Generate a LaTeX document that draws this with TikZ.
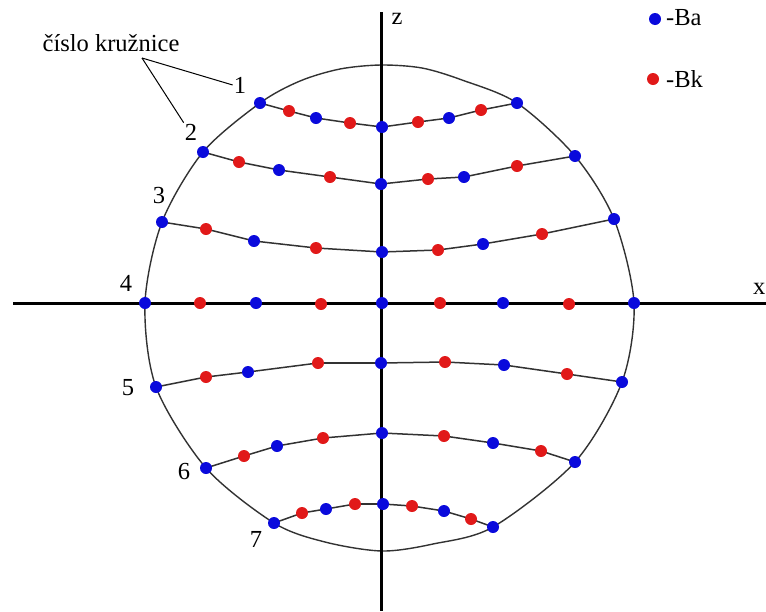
\documentclass[tikz,border=0pt]{standalone}
\usepackage{fontspec}
\setmainfont{Liberation Serif}
\usetikzlibrary{backgrounds}
\definecolor{dotblue}{RGB}{10,10,220}
\definecolor{dotred}{RGB}{225,25,25}
\definecolor{linegray}{RGB}{50,50,50}
\begin{document}
\begin{tikzpicture}[x=1pt,y=-1pt,
  dotB/.style={circle,fill=dotblue,inner sep=0pt,minimum size=12pt},
  dotR/.style={circle,fill=dotred,inner sep=0pt,minimum size=12pt},
  rowline/.style={draw=linegray,line width=1.5pt},
  outline/.style={draw=linegray,line width=1.4pt},
  axis/.style={draw=black,line width=3pt},
  lbl/.style={font=\fontsize{24.5}{28}\selectfont,inner sep=1pt},
  leader/.style={draw=black,line width=1pt}]
\useasboundingbox (0,0) rectangle (766,611);
% dots
\foreach \r/\pts in {
  1/{260/103,289/111,316/118,350/123,382/127,418/122,449/118,481/110,517/103},
  2/{203/152,239/162,279/170,330/177,381/184,428/179,464/177,517/166,575/156},
  3/{162/222,206/229,254/241,316/248,382/252,438/250,483/244,542/234,614/219},
  4/{145/303,200/303,256/303,321/304,382/303,440/303,503/303,569/304,634/303},
  5/{156/387,206/377,248/372,318/363,381/363,445/362,504/365,567/374,622/382},
  6/{206/468,244/456,277/446,323/438,382/433,444/436,493/443,541/451,575/462},
  7/{274/523,302/513,326/509,355/504,383/504,412/506,444/511,471/519,493/527}}{
  \foreach \px/\py [count=\i] in \pts {
    \ifodd\i
      \node[dotB] (r\r-\i) at (\px,\py) {};
    \else
      \node[dotR] (r\r-\i) at (\px,\py) {};
    \fi
  }
}
\coordinate (ta) at (300,81);
\coordinate (tb) at (340,69);
\coordinate (top) at (381,65);
\coordinate (tc) at (422,68);
\coordinate (td) at (462,80);
\coordinate (ba) at (433,544);
\coordinate (bot) at (382,551);
\coordinate (bb) at (325,542);
\coordinate (zt) at (381.5,12);
\coordinate (zb) at (381.5,611);
\coordinate (xl) at (13,303);
\coordinate (xr) at (766,303);
\begin{scope}[on background layer]
  \foreach \r in {1,2,3,5,6,7}{
    \foreach \i [evaluate=\i as \j using int(\i+1)] in {1,...,8}{
      \draw[rowline] (r\r-\i.center) -- (r\r-\j.center);
    }
  }
  \draw[outline] plot[smooth cycle, tension=0.5] coordinates {(top) (tc) (td) (r1-9.center) (r2-9.center) (r3-9.center) (r4-9.center) (r5-9.center) (r6-9.center) (r7-9.center) (ba) (bot) (bb) (r7-1.center) (r6-1.center) (r5-1.center) (r4-1.center) (r3-1.center) (r2-1.center) (r1-1.center) (ta) (tb)};
  \draw[axis] (zt) -- (zb);
  \draw[axis] (xl) -- (xr);
\end{scope}
% labels
\node[lbl] (n1) at (240,85) {1};
\node[lbl] (n2) at (191,132) {2};
\node[lbl] (n3) at (159,196) {3};
\node[lbl] (n4) at (126,283) {4};
\node[lbl] (n5) at (128,388) {5};
\node[lbl] (n6) at (184,472) {6};
\node[lbl] (n7) at (256,539) {7};
\node[lbl] (title) at (111,43) {číslo kružnice};
\coordinate (lead) at (142,58);
\draw[leader] (lead) -- (n1.west);
\draw[leader] (lead) -- (n2.north west);
\node[lbl] (zlab) at (397,19) {z};
\node[lbl,anchor=west] (xlab) at (752,289) {x};
% legend
\node[dotB] (legB) at (655,19) {};
\node[lbl,anchor=west] (legBt) at (665,18) {-Ba};
\node[dotR] (legR) at (653,79) {};
\node[lbl,anchor=west] (legRt) at (665,79) {-Bk};
\end{tikzpicture}
\end{document}
